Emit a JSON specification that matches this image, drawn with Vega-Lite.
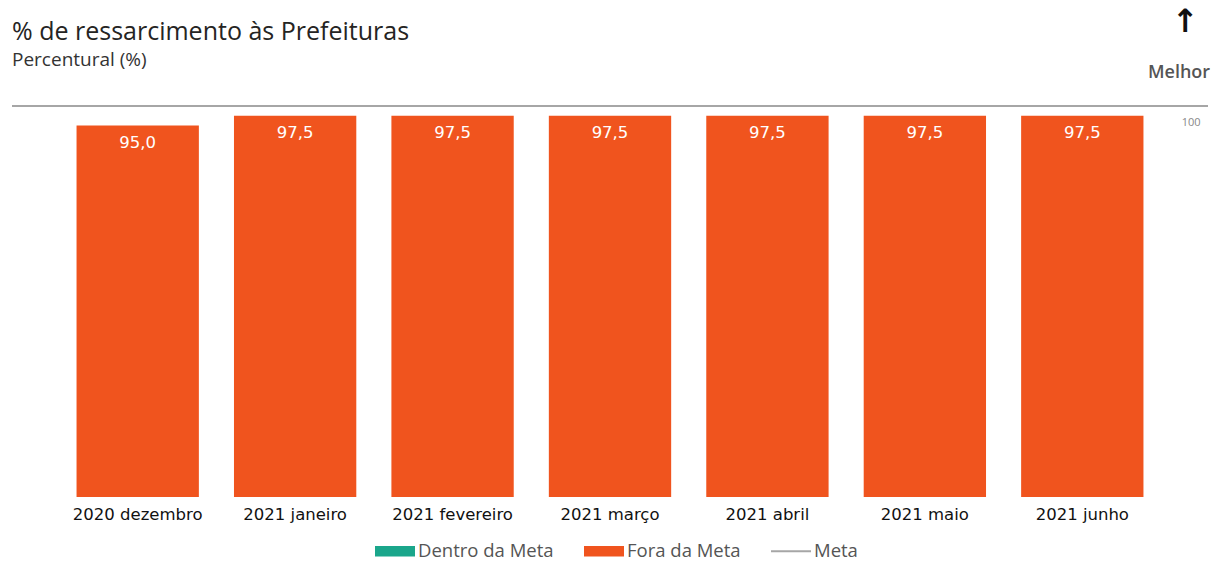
{
  "$schema": "https://vega.github.io/schema/vega-lite/v6.json",
  "width": 1196,
  "height": 391,
  "autosize": {"type": "none"},
  "padding": {"left": 12, "top": 106, "right": 20, "bottom": 84},
  "background": "white",
  "title": {
    "text": "% de ressarcimento às Prefeituras",
    "subtitle": "Percentural (%)",
    "anchor": "start",
    "frame": "group",
    "font": "Open Sans",
    "fontSize": 25,
    "fontWeight": "normal",
    "color": "#252423",
    "subtitleFont": "Open Sans",
    "subtitleFontSize": 19,
    "subtitleColor": "#333333",
    "subtitlePadding": 6,
    "offset": -65
  },
  "datasets": {
    "barras": [
      {"mes": "2020 dezembro", "valor": 95.0, "status": "Fora da Meta"},
      {"mes": "2021 janeiro", "valor": 97.5, "status": "Fora da Meta"},
      {"mes": "2021 fevereiro", "valor": 97.5, "status": "Fora da Meta"},
      {"mes": "2021 março", "valor": 97.5, "status": "Fora da Meta"},
      {"mes": "2021 abril", "valor": 97.5, "status": "Fora da Meta"},
      {"mes": "2021 maio", "valor": 97.5, "status": "Fora da Meta"},
      {"mes": "2021 junho", "valor": 97.5, "status": "Fora da Meta"}
    ],
    "meta": [
      {"meta": 100, "serie": "Meta"}
    ]
  },
  "layer": [
    {
      "data": {"name": "barras"},
      "mark": {"type": "bar"},
      "encoding": {
        "x": {
          "field": "mes",
          "type": "nominal",
          "sort": null,
          "scale": {"paddingInner": 0.223, "paddingOuter": 0.41},
          "axis": {
            "title": "↑",
            "labelAngle": 0,
            "domain": false,
            "ticks": false,
            "labelFont": "DejaVu Sans",
            "labelFontSize": 16.5,
            "labelColor": "#111111",
            "labelPadding": 9,
            "titleFont": "DejaVu Sans",
            "titleFontSize": 32,
            "titleFontWeight": "bold",
            "titleColor": "#111111",
            "titleX": 1173,
            "titleY": -476,
            "titleAlign": "center",
            "titleBaseline": "middle",
            "titleAngle": 0
          }
        },
        "y": {
          "field": "valor",
          "type": "quantitative",
          "title": "Melhor",
          "scale": {"domain": [0, 100], "nice": false},
          "axis": {
            "orient": "right",
            "values": [100],
            "title": "Melhor",
            "grid": false,
            "domain": false,
            "ticks": false,
            "labelAlign": "right",
            "labelPadding": -8,
            "labelBaseline": "middle",
            "labelOffset": 16,
            "labelFont": "Open Sans",
            "labelFontSize": 11,
            "labelColor": "#888888",
            "titleX": -29.5,
            "titleY": -34,
            "titleAngle": 0,
            "titleAlign": "center",
            "titleBaseline": "middle",
            "titleFont": "Open Sans",
            "titleFontSize": 18,
            "titleFontWeight": 600,
            "titleColor": "#555555"
          }
        },
        "color": {
          "field": "status",
          "type": "nominal",
          "scale": {
            "domain": ["Dentro da Meta", "Fora da Meta", "Meta"],
            "range": ["#1aa68b", "#f0541e", "#a6a6a6"]
          },
          "legend": {
            "title": null,
            "orient": "none",
            "legendX": 363,
            "legendY": 425,
            "direction": "horizontal",
            "symbolType": "M-1,-0.26H1V0.26H-1Z",
            "symbolSize": 1600,
            "symbolStrokeWidth": 0,
            "labelFont": "Open Sans",
            "labelFontSize": 18.5,
            "labelColor": "#555555",
            "labelOffset": 3,
            "columnPadding": 30,
            "encode": {
              "symbols": {
                "update": {
                  "shape": {"signal": "datum.label === 'Meta' ? 'M-1,-0.045H1V0.045H-1Z' : 'M-1,-0.26H1V0.26H-1Z'"},
                  "fill": {"signal": "scale('color', datum.value)"},
                  "strokeWidth": {"value": 0},
                  "opacity": {"value": 1}
                }
              }
            }
          }
        }
      }
    },
    {
      "data": {"name": "barras"},
      "mark": {"type": "text", "baseline": "middle", "dy": 17, "color": "white", "font": "DejaVu Sans", "fontSize": 16.5},
      "encoding": {
        "x": {"field": "mes", "type": "nominal", "sort": null},
        "y": {"field": "valor", "type": "quantitative", "title": "Melhor"},
        "text": {"field": "valor", "type": "quantitative", "format": ".1f"}
      }
    },
    {
      "data": {"name": "meta"},
      "mark": {"type": "rule", "strokeWidth": 2},
      "encoding": {
        "y": {"field": "meta", "type": "quantitative", "title": "Melhor"},
        "color": {"field": "serie", "type": "nominal"}
      }
    }
  ],
  "config": {
    "view": {"stroke": null},
    "locale": {"number": {"decimal": ",", "thousands": ".", "grouping": [3], "currency": ["R$ ", ""]}}
  }
}
